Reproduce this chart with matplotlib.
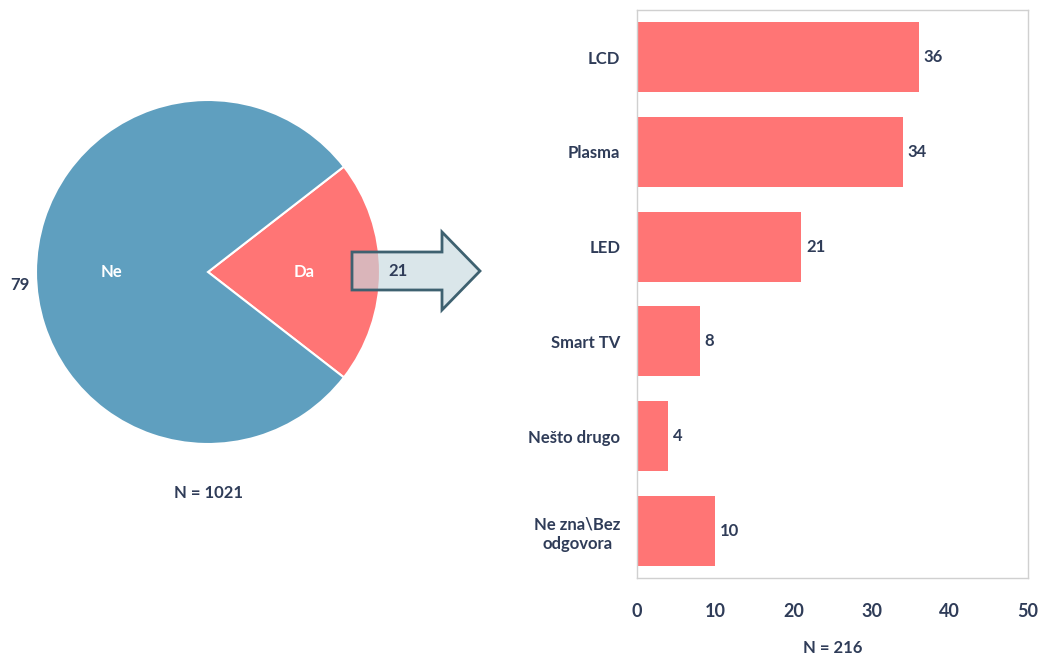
import matplotlib
matplotlib.use("Agg")
import matplotlib.pyplot as plt
from matplotlib.patches import Polygon

pie_labels = ["Da", "Ne"]
pie_values = [21, 79]
pie_n = "N = 1021"

bar_categories = ["LCD", "Plasma", "LED", "Smart TV", "Nešto drugo", "Ne zna\\Bez\nodgovora"]
bar_values = [36, 34, 21, 8, 4, 10]
bar_n = "N = 216"
x_ticks = [0, 10, 20, 30, 40, 50]

BLUE = "#5f9fbf"
RED = "#ff7575"
TXT = "#2f3c58"
FONT = ["Lato", "DejaVu Sans"]
plt.rcParams["font.family"] = FONT
FS = 12

W, H = 1045, 660
fig = plt.figure(figsize=(W / 100, H / 100), dpi=100)

# Pie
cx, cy, r = 208, 272, 172
axp = fig.add_axes([(cx - r) / W, 1 - (cy + r) / H, 2 * r / W, 2 * r / H])
half = pie_values[0] / sum(pie_values) * 360 / 2
wedges, texts = axp.pie(
    pie_values, labels=pie_labels, colors=[RED, BLUE], startangle=-half,
    labeldistance=0.5,
    wedgeprops=dict(edgecolor="white", linewidth=1.5),
    textprops=dict(fontsize=FS, fontweight="bold"))
for t in texts:
    t.set_color("white")
axp.set_xlim(-1, 1)
axp.set_ylim(-1, 1)
axp.set_aspect("equal")
# value labels (Da value over the arrow, Ne value on the left)
fig.text(398 / W, 1 - 271 / H, str(pie_values[0]), ha="center", va="center",
         fontsize=FS, fontweight="bold", color=TXT, zorder=20)
fig.text(20 / W, 1 - 285 / H, str(pie_values[1]), ha="center", va="center",
         fontsize=FS, fontweight="bold", color=TXT, zorder=20)
fig.text(cx / W, 1 - 493 / H, pie_n, ha="center", va="center",
         fontsize=FS, fontweight="bold", color=TXT)

# Arrow
pts = [(352, 252), (442, 252), (442, 232), (480, 271), (442, 310), (442, 290), (352, 290)]
arrow = Polygon([(x / W, 1 - y / H) for x, y in pts], closed=True,
                transform=fig.transFigure, facecolor=(0.78, 0.85, 0.88, 0.65),
                edgecolor="#3e6170", linewidth=2, zorder=5)
fig.patches.append(arrow)

# Bars
left, right, top, bottom = 637, 1028, 10, 578
axb = fig.add_axes([left / W, 1 - bottom / H, (right - left) / W, (bottom - top) / H])
ypos = list(range(len(bar_categories)))
axb.barh(ypos, bar_values, height=0.74, color=RED)
for y, v in zip(ypos, bar_values):
    axb.text(v + 0.6, y, str(v), va="center", ha="left", fontsize=FS,
             fontweight="bold", color=TXT)
axb.set_xlim(0, 50)
axb.set_ylim(len(bar_categories) - 0.5, -0.5)
axb.set_yticks(ypos)
axb.set_yticklabels(bar_categories, fontsize=FS, fontweight="bold", color=TXT,
                    linespacing=1.3, multialignment="center")
axb.set_xticks(x_ticks)
axb.set_xticklabels([str(t) for t in x_ticks], fontsize=FS + 1, fontweight="bold", color=TXT)
axb.tick_params(axis="y", length=0, pad=12)
axb.tick_params(axis="x", length=0, pad=18)
for s in axb.spines.values():
    s.set_color("#d0d0d0")
    s.set_linewidth(1)
fig.text((left + right) / 2 / W, 1 - 648 / H, bar_n, ha="center", va="center",
         fontsize=FS, fontweight="bold", color=TXT)

fig.savefig("out.png", dpi=100)
